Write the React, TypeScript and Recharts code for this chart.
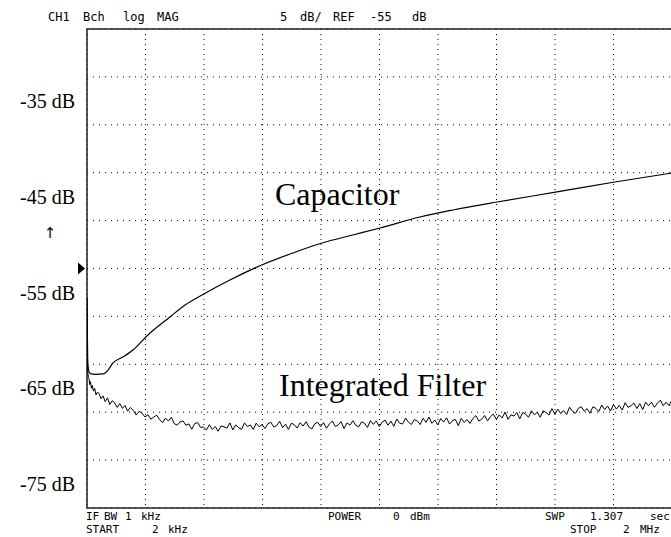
import React from 'react';
import {
  LineChart,
  Line,
  XAxis,
  YAxis,
  CartesianGrid,
  ReferenceLine,
  ReferenceArea,
  Customized,
} from 'recharts';

// Frequency sweep 2 kHz .. 2 MHz (values in kHz), magnitude in dB
const capFreqKHz = [2, 5, 9, 16, 29, 57, 74, 91, 125, 159, 210, 285, 337, 398, 490, 603, 705, 804, 910, 1003, 1139, 1252, 1402, 1607, 1805, 2000];
const capDb = [-55.6, -62.4, -63.3, -63.5, -63.55, -63.5, -63.1, -62.36, -61.74, -61.01, -59.44, -57.56, -56.31, -55.21, -53.7, -52.08, -50.88, -49.84, -49.0, -48.27, -47.12, -46.39, -45.56, -44.51, -43.47, -42.53];

const filtFreqKHz = [
  2, 3.5, 5, 7, 9, 11, 14, 17, 20, 24, 28, 33, 38, 44, 50, 57, 64, 72, 80, 88, 96, 105, 114, 123, 132, 141, 150, 160, 170, 180, 190, 200,
  210, 220, 230, 240, 250, 260, 270, 280, 290, 300,
  310, 320, 330, 340, 350, 360, 370, 380, 390, 400,
  410, 420, 430, 440, 450, 460, 470, 480, 490, 500,
  510, 520, 530, 540, 550, 560, 570, 580, 590, 600,
  610, 620, 630, 640, 650, 660, 670, 680, 690, 700,
  710, 720, 730, 740, 750, 760, 770, 780, 790, 800,
  810, 820, 830, 840, 850, 860, 870, 880, 890, 900,
  910, 920, 930, 940, 950, 960, 970, 980, 990, 1000,
  1010, 1020, 1030, 1040, 1050, 1060, 1070, 1080, 1090, 1100,
  1110, 1120, 1130, 1140, 1150, 1160, 1170, 1180, 1190, 1200,
  1210, 1220, 1230, 1240, 1250, 1260, 1270, 1280, 1290, 1300,
  1310, 1320, 1330, 1340, 1350, 1360, 1370, 1380, 1390, 1400,
  1410, 1420, 1430, 1440, 1450, 1460, 1470, 1480, 1490, 1500,
  1510, 1520, 1530, 1540, 1550, 1560, 1570, 1580, 1590, 1600,
  1610, 1620, 1630, 1640, 1650, 1660, 1670, 1680, 1690, 1700,
  1710, 1720, 1730, 1740, 1750, 1760, 1770, 1780, 1790, 1800,
  1810, 1820, 1830, 1840, 1850, 1860, 1870, 1880, 1890, 1900,
  1910, 1920, 1930, 1940, 1950, 1960, 1970, 1980, 1990, 2000,
];
const filtDb = [
  -55.5, -62.8, -63.4, -63.9, -64.0, -64.6, -64.3, -65.0, -64.7, -65.3, -65.0, -65.7, -65.4, -65.6, -66.1, -65.8, -66.4, -66.0, -66.7, -66.3, -66.5, -67.0, -66.6, -67.1, -66.8, -67.4, -67.0, -67.3, -67.8, -67.4, -67.6, -68.0,
  -67.77, -68.23, -68.0, -67.81, -68.28, -68.59, -68.11, -68.42, -68.04, -68.7,
  -68.85, -68.51, -68.41, -68.87, -68.72, -69.28, -68.68, -68.59, -69.09, -69.05,
  -69.35, -68.8, -69.3, -68.99, -69.49, -68.93, -69.02, -69.17, -68.61, -69.35,
  -68.83, -69.11, -69.29, -68.62, -69.0, -68.83, -69.31, -68.64, -69.02, -68.8,
  -69.2, -68.7, -68.55, -69.05, -68.9, -68.45, -69.1, -68.75, -69.3, -68.65,
  -68.8, -69.15, -68.6, -68.95, -68.5, -69.05, -69.25, -68.7, -68.55, -69.0,
  -68.59, -69.18, -68.72, -68.41, -69.0, -68.84, -68.48, -69.22, -68.61, -68.85,
  -68.39, -68.88, -69.02, -68.51, -68.65, -69.09, -68.38, -68.77, -68.41, -69.0,
  -68.54, -68.32, -68.86, -68.44, -68.98, -68.21, -68.65, -68.73, -68.12, -68.55,
  -68.79, -68.27, -68.41, -68.79, -68.13, -68.56, -68.0, -68.66, -68.31, -68.82,
  -68.17, -68.53, -68.08, -68.74, -68.39, -68.25, -68.9, -68.15, -68.56, -68.27,
  -68.68, -68.15, -67.86, -68.42, -68.24, -67.85, -68.41, -67.97, -67.69, -68.25,
  -67.78, -68.1, -67.48, -68.25, -67.78, -67.9, -67.53, -68.2, -67.53, -67.7,
  -68.03, -67.35, -67.78, -67.5, -68.03, -67.35, -67.53, -67.8, -67.13, -67.7,
  -67.18, -67.65, -67.33, -67.75, -66.98, -67.4, -67.63, -67.1, -66.93, -67.4,
  -67.13, -67.6, -66.93, -67.1, -67.43, -66.75, -67.23, -66.85, -67.38, -66.7,
  -67.18, -66.81, -67.28, -66.51, -66.99, -66.82, -66.54, -67.12, -66.6, -67.23,
  -66.45, -66.83, -66.46, -66.99, -66.56, -66.24, -66.82, -66.45, -66.82, -66.2,
];

const yTickLabels = [-35, -45, -55, -65, -75];
const yGridLines = [-32.5, -37.5, -42.5, -47.5, -52.5, -57.5, -62.5, -67.5, -72.5];
const xGridLines = [201.8, 401.6, 601.4, 801.2, 1001, 1200.8, 1400.6, 1600.4, 1800.2];
const yDomain: [number, number] = [-77.5, -27.5];
const xDomain: [number, number] = [2, 2000];
const refLevelDb = -52.5;

const capData = capFreqKHz.map((f, i) => ({ f, db: capDb[i] }));
const filtData = filtFreqKHz.map((f, i) => ({ f, db: filtDb[i] }));

const MONO = '"DejaVu Sans Mono", "Liberation Mono", monospace';
const SERIF = '"Liberation Serif", "Times New Roman", serif';

const TriangleLabel = (props: any) => {
  const vb = props.viewBox || {};
  const x = vb.x;
  const y = vb.y;
  return <polygon points={`${x - 9},${y - 6} ${x - 2},${y} ${x - 9},${y + 6}`} fill="#000" />;
};

const Annotations = () => {
  const mono = { fontFamily: MONO, fontSize: 12, fill: '#000' } as const;
  const foot = { fontFamily: MONO, fontSize: 11, fill: '#000' } as const;
  const serifBig = { fontFamily: SERIF, fontSize: 32, fill: '#000' } as const;
  return (
    <g>
      <text x={48} y={21} {...mono}>CH1</text>
      <text x={83} y={21} {...mono}>Bch</text>
      <text x={123} y={21} {...mono}>log</text>
      <text x={157} y={21} {...mono}>MAG</text>
      <text x={280} y={21} {...mono}>5</text>
      <text x={300} y={21} {...mono}>dB/</text>
      <text x={333} y={21} {...mono}>REF</text>
      <text x={370} y={21} {...mono}>-55</text>
      <text x={412} y={21} {...mono}>dB</text>

      <text x={86} y={520} {...foot}>IF</text>
      <text x={104} y={520} {...foot}>BW</text>
      <text x={125} y={520} {...foot}>1</text>
      <text x={141} y={520} {...foot}>kHz</text>
      <text x={328} y={520} {...foot}>POWER</text>
      <text x={393} y={520} {...foot}>0</text>
      <text x={410} y={520} {...foot}>dBm</text>
      <text x={545} y={520} {...foot}>SWP</text>
      <text x={590} y={520} {...foot}>1.307</text>
      <text x={650} y={520} {...foot}>sec</text>

      <text x={86} y={533} {...foot}>START</text>
      <text x={152} y={533} {...foot}>2</text>
      <text x={168} y={533} {...foot}>kHz</text>
      <text x={570} y={533} {...foot}>STOP</text>
      <text x={623} y={533} {...foot}>2</text>
      <text x={640} y={533} {...foot}>MHz</text>

      <text x={275} y={205} {...serifBig}>Capacitor</text>
      <text x={279} y={396} {...serifBig}>Integrated Filter</text>
      <text x={50} y={238} textAnchor="middle" fontFamily='"DejaVu Sans", sans-serif' fontSize={15} fill="#000">↑</text>
    </g>
  );
};

export default function App() {
  return (
    <div style={{ position: 'absolute', left: 0, top: 0, width: 671, height: 537, overflow: 'hidden', background: '#fff' }}>
      <LineChart width={673} height={537} margin={{ top: 29, right: 1, bottom: 29, left: 0 }}>
        <XAxis dataKey="f" type="number" domain={xDomain} ticks={xGridLines} hide allowDataOverflow />
        <YAxis
          type="number"
          domain={yDomain}
          ticks={yTickLabels}
          width={87}
          axisLine={false}
          tickLine={false}
          tickSize={6}
          tickMargin={6}
          allowDataOverflow
          tickFormatter={(v: number) => `${v} dB`}
          tick={{ fontFamily: SERIF, fontSize: 20, fill: '#000' }}
        />
        <YAxis yAxisId="grid" type="number" domain={yDomain} ticks={yGridLines} hide allowDataOverflow />
        <CartesianGrid vertical={false} yAxisId="grid" stroke="#000" strokeDasharray="1 5" />
        <CartesianGrid horizontal={false} stroke="#000" strokeDasharray="1 4" />
        <ReferenceArea x1={2} x2={2000} y1={-77.5} y2={-27.5} fill="none" stroke="#222" strokeWidth={1.5} ifOverflow="visible" />
        <ReferenceLine y={refLevelDb} stroke="none" label={<TriangleLabel />} ifOverflow="visible" />
        <Line data={capData} dataKey="db" type="monotone" dot={false} stroke="#000" strokeWidth={1.2} isAnimationActive={false} />
        <Line data={filtData} dataKey="db" type="linear" dot={false} stroke="#000" strokeWidth={1} isAnimationActive={false} />
        <Customized component={Annotations} />
      </LineChart>
    </div>
  );
}
